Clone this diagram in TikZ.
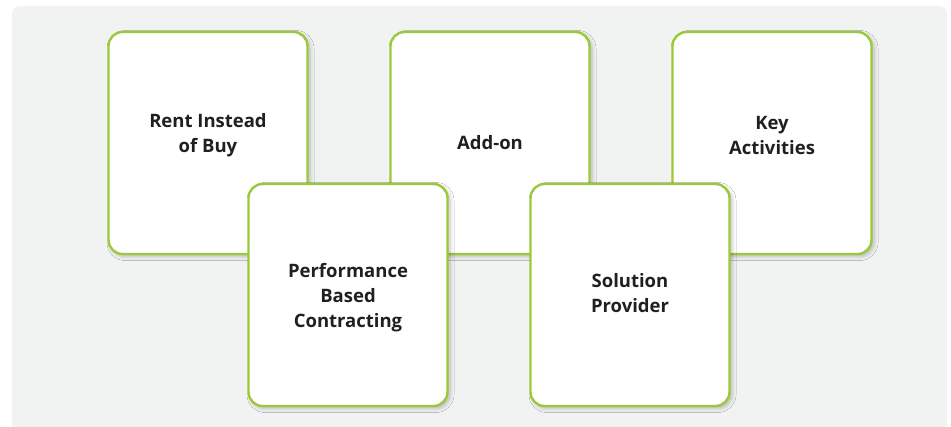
\documentclass[tikz,border=0pt]{standalone}
\usepackage{fontspec}
\setmainfont{Open Sans}
\usetikzlibrary{shadows.blur}
\definecolor{panelgrey}{HTML}{F1F2F2}
\definecolor{limegreen}{HTML}{9CC93A}
\definecolor{inkdark}{HTML}{231F20}
\begin{document}
\begin{tikzpicture}[x=1pt,y=-1pt,
  card/.style={draw=limegreen, line width=2.4pt, fill=white, rounded corners=14pt,
    minimum width=199pt, minimum height=222pt, inner sep=0pt,
    blur shadow={shadow xshift=2.5pt, shadow yshift=-2.5pt, shadow blur radius=4pt, shadow opacity=25}},
  label/.style={font=\fontsize{18.5}{25}\selectfont\bfseries, text=inkdark, align=center}]
  \useasboundingbox (0,0) rectangle (951,426);
  % background panel, running off the bottom edge
  \begin{scope}
    \clip (0,0) rectangle (951,426);
    \fill[panelgrey, rounded corners=8pt] (12,450) -- (12,6) -- (947,6) -- (947,450) -- cycle;
  \end{scope}
  % back row of cards
  \node[card] (rent) at (208,143) {};
  \node[card] (addon) at (490,143) {};
  \node[card] (key) at (772,143) {};
  \node[label] (rentT) at (208,135) {Rent Instead\\of Buy};
  \node[label] (addonT) at (490,143) {Add-on};
  \node[label] (keyT) at (772,135) {Key\\Activities};
  % front row of cards
  \node[card] (perf) at (348,295) {};
  \node[card] (sol) at (630,295) {};
  \node[label] (perfT) at (348,298) {Performance\\Based\\Contracting};
  \node[label] (solT) at (630,293) {Solution\\Provider};
\end{tikzpicture}
\end{document}
